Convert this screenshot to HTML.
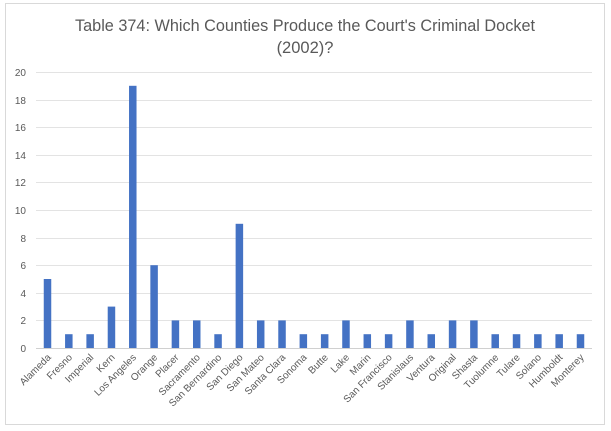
<!DOCTYPE html>
<html><head><meta charset="utf-8"><style>
body{margin:0;background:#fff;}
svg{display:block;font-family:"Liberation Sans",sans-serif;}
</style></head><body>
<svg width="611" height="431" viewBox="0 0 611 431">
<rect x="0" y="0" width="611" height="431" fill="#fff"/>
<rect x="5.5" y="3.5" width="599" height="421" fill="#fff" stroke="#d9d9d9" stroke-width="1"/>
<text x="305" y="31" text-anchor="middle" font-size="16.5" fill="#595959" textLength="460" lengthAdjust="spacingAndGlyphs">Table 374: Which Counties Produce the Court's Criminal Docket</text>
<text x="305" y="53" text-anchor="middle" font-size="16.5" fill="#595959">(2002)?</text>
<g stroke="#e3e3e3" stroke-width="1">
<line x1="36" x2="592" y1="72.5" y2="72.5"/><line x1="36" x2="592" y1="100.5" y2="100.5"/>
<line x1="36" x2="592" y1="127.5" y2="127.5"/><line x1="36" x2="592" y1="155.5" y2="155.5"/>
<line x1="36" x2="592" y1="182.5" y2="182.5"/><line x1="36" x2="592" y1="210.5" y2="210.5"/>
<line x1="36" x2="592" y1="238.5" y2="238.5"/><line x1="36" x2="592" y1="265.5" y2="265.5"/>
<line x1="36" x2="592" y1="293.5" y2="293.5"/><line x1="36" x2="592" y1="320.5" y2="320.5"/>
<line x1="36" x2="592" y1="348.5" y2="348.5" stroke="#d0d0d0"/>
</g>
<g font-size="10" fill="#595959" text-anchor="end">
<text x="26" y="76">20</text><text x="26" y="104">18</text><text x="26" y="131">16</text>
<text x="26" y="159">14</text><text x="26" y="186">12</text><text x="26" y="214">10</text>
<text x="26" y="242">8</text><text x="26" y="269">6</text><text x="26" y="297">4</text>
<text x="26" y="324">2</text><text x="26" y="352">0</text>
</g>
<g id="bars" fill="#4472c4"></g>
<g id="labels" font-size="10" fill="#595959" text-anchor="end"></g>
<script>
var names=["Alameda","Fresno","Imperial","Kern","Los Angeles","Orange","Placer","Sacramento","San Bernardino","San Diego","San Mateo","Santa Clara","Sonoma","Butte","Lake","Marin","San Francisco","Stanislaus","Ventura","Original","Shasta","Tuolumne","Tulare","Solano","Humboldt","Monterey"];
var vals=[5,1,1,3,19,6,2,2,1,9,2,2,1,1,2,1,1,2,1,2,2,1,1,1,1,1];
var ns="http://www.w3.org/2000/svg",b=document.getElementById("bars"),l=document.getElementById("labels");
for(var i=0;i<26;i++){var cx=47.5+i*21.32,h=vals[i]*13.8;
var r=document.createElementNS(ns,"rect");r.setAttribute("x",cx-3.75);r.setAttribute("width",7.5);r.setAttribute("y",348-h);r.setAttribute("height",h);b.appendChild(r);
var t=document.createElementNS(ns,"text");t.setAttribute("transform","translate("+(cx+4)+",358) rotate(-45)");t.textContent=names[i];l.appendChild(t);}
</script>
</svg>
</body></html>
